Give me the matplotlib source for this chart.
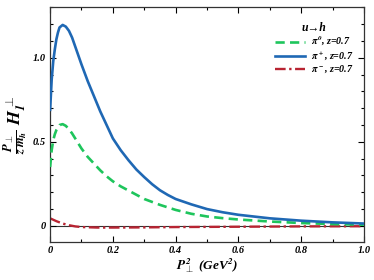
import matplotlib
matplotlib.use("Agg")
import matplotlib.pyplot as plt
from matplotlib.ticker import MultipleLocator, FixedLocator

plt.rcParams['font.family'] = ['Liberation Serif', 'DejaVu Serif']
plt.rcParams['font.weight'] = 'bold'
plt.rcParams['font.style'] = 'italic'
plt.rcParams['mathtext.fontset'] = 'custom'
plt.rcParams['mathtext.it'] = 'STIXGeneral:italic:bold'
plt.rcParams['mathtext.rm'] = 'STIXGeneral:bold'
plt.rcParams['mathtext.bf'] = 'STIXGeneral:italic:bold'
plt.rcParams['mathtext.sf'] = 'STIXGeneral:bold'

# data
x_pip = [0, 0.005, 0.01, 0.015, 0.02, 0.025, 0.03, 0.04, 0.05, 0.06, 0.07, 0.085, 0.1,
         0.12, 0.14, 0.16, 0.18, 0.2, 0.225, 0.25, 0.275, 0.3, 0.325, 0.35, 0.375,
         0.4, 0.45, 0.5, 0.55, 0.6, 0.7, 0.8, 0.9, 1.0]
y_pip = [0.69, 0.87, 0.98, 1.05, 1.11, 1.15, 1.18, 1.195, 1.185, 1.16, 1.12, 1.04, 0.96,
         0.86, 0.77, 0.68, 0.60, 0.52, 0.45, 0.39, 0.335, 0.29, 0.248, 0.212, 0.184,
         0.16, 0.128, 0.10, 0.081, 0.066, 0.045, 0.031, 0.021, 0.014]

x_pi0 = [0, 0.005, 0.01, 0.015, 0.02, 0.03, 0.04, 0.05, 0.06, 0.07, 0.085, 0.1, 0.12,
         0.14, 0.16, 0.18, 0.2, 0.225, 0.25, 0.275, 0.3, 0.35, 0.4, 0.45, 0.5,
         0.55, 0.6, 0.7, 0.8, 0.9, 1.0]
y_pi0 = [0.35, 0.45, 0.51, 0.545, 0.57, 0.60, 0.605, 0.595, 0.575, 0.55, 0.505, 0.46, 0.41,
         0.37, 0.33, 0.295, 0.265, 0.235, 0.21, 0.185, 0.16, 0.125, 0.095, 0.072, 0.056,
         0.046, 0.038, 0.026, 0.017, 0.011, 0.007]

x_pim = [0, 0.02, 0.04, 0.06, 0.08, 0.1, 0.15, 0.2, 0.3, 0.4, 0.5, 0.6, 0.8, 1.0]
y_pim = [0.045, 0.028, 0.014, 0.004, -0.003, -0.007, -0.01, -0.01, -0.009,
         -0.007, -0.006, -0.005, -0.003, -0.002]

labels = [r'$\pi^0$, z=0.7', r'$\pi^+$, z=0.7', r'$\pi^-$, z=0.7']
x_ticks = [0, 0.2, 0.4, 0.6, 0.8, 1.0]
x_ticklabels = ['0', '0.2', '0.4', '0.6', '0.8', '1.0']
y_ticks = [0, 0.5, 1.0]
y_ticklabels = ['0', '0.5', '1.0']

green = '#1ec55c'
blue = '#1f68b4'
red = '#b82432'

fig = plt.figure(figsize=(3.74, 2.80), dpi=100)
ax = fig.add_axes([0.134, 0.135, 0.839, 0.839])

ax.axhline(0, color='#333333', lw=0.8, zorder=1)
ax.plot(x_pi0, y_pi0, color=green, lw=1.9, dashes=(3.5, 2.0), label=labels[0], zorder=3)
ax.plot(x_pip, y_pip, color=blue, lw=1.9, label=labels[1], zorder=3)
ax.plot(x_pim, y_pim, color=red, lw=1.7, dashes=(4.5, 1.5, 1.0, 1.5), label=labels[2], zorder=2)

ax.set_xlim(0, 1.0)
ax.set_ylim(-0.097, 1.3)
ax.xaxis.set_major_locator(FixedLocator(x_ticks))
ax.set_xticklabels(x_ticklabels)
ax.yaxis.set_major_locator(FixedLocator(y_ticks))
ax.set_yticklabels(y_ticklabels)
ax.xaxis.set_minor_locator(MultipleLocator(0.1))
ax.yaxis.set_minor_locator(MultipleLocator(0.1))
ax.tick_params(which='both', direction='in', top=True, right=True, labelsize=7.5, pad=3)
ax.tick_params(which='major', length=4, width=0.8)
ax.tick_params(which='minor', length=2.5, width=0.8)
for lab in ax.get_xticklabels() + ax.get_yticklabels():
    lab.set_fontweight('bold'); lab.set_fontstyle('italic')
for s in ax.spines.values():
    s.set_linewidth(0.9)
    s.set_color('#333333')

ax.set_xlabel(r'$P_\bot^2$ (GeV$^2$)', fontsize=9.5, fontweight='bold', fontstyle='italic', labelpad=1)
ax.set_ylabel(r'$\frac{P_\bot}{z\,m_h}\ H_1^\bot$', fontsize=13, labelpad=2)

leg = ax.legend(loc='upper right', bbox_to_anchor=(0.985, 0.965), frameon=False,
                fontsize=7.2, title='u→h', title_fontsize=8.5,
                handlelength=3.0, handletextpad=0.6, labelspacing=0.15, borderaxespad=0.2)
leg.get_title().set_fontweight('bold'); leg.get_title().set_fontstyle('italic')
for t in leg.get_texts():
    t.set_fontweight('bold'); t.set_fontstyle('italic')

fig.savefig('out.png', dpi=100)
